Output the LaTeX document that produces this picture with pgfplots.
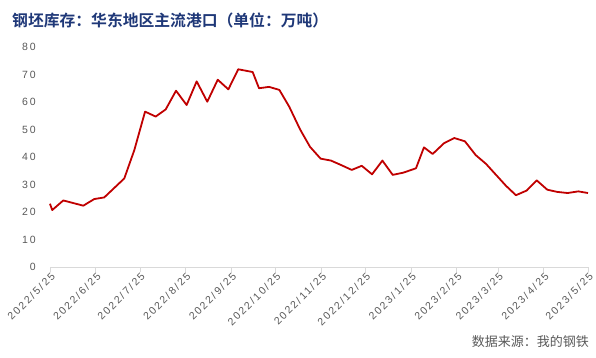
\documentclass[border=0pt]{standalone}
\usepackage{fontspec}
\usepackage{pgfplots}
\pgfplotsset{compat=1.18}
\setmainfont{Liberation Sans}
\newfontfamily\tickfont{Liberation Sans}[LetterSpace=18]
\newfontfamily\cjk{Noto Sans CJK SC}[BoldFont={Noto Sans CJK SC Bold}]
\definecolor{titleblue}{RGB}{31,56,120}
\definecolor{tickgray}{RGB}{89,89,89}
\definecolor{axgray}{RGB}{217,217,217}
\definecolor{linered}{RGB}{192,0,0}
\begin{document}
\begin{tikzpicture}[x=1pt,y=1pt]
\useasboundingbox (0,0) rectangle (596,358);
\node[anchor=west, inner sep=0pt, text=titleblue, font=\cjk\bfseries\fontsize{15.8}{17}\selectfont] at (12,338) {钢坯库存：华东地区主流港口（单位：万吨）};
\node[anchor=east, inner sep=0pt, text=tickgray, font=\cjk\fontsize{13}{15}\selectfont] at (589,16) {数据来源：我的钢铁};
\begin{axis}[
  at={(50pt,91pt)}, anchor=south west,
  scale only axis, width=538pt, height=220pt,
  xmin=0, xmax=365, ymin=0, ymax=80,
  axis x line*=bottom, axis y line*=left,
  x axis line style={draw=axgray, line width=0.8pt},
  y axis line style={draw=none},
  ytick={0,10,...,80},
  xtick={0,31,61,92,123,153,184,214,245,276,304,335,365},
  xticklabels={2022/5/25,2022/6/25,2022/7/25,2022/8/25,2022/9/25,2022/10/25,2022/11/25,2022/12/25,2023/1/25,2023/2/25,2023/3/25,2023/4/25,2023/5/25},
  tick align=outside,
  major tick length=5pt,
  xtick style={draw=axgray, line width=0.8pt},
  ytick style={draw=none},
  tick label style={font=\tickfont\fontsize{10.5}{12}\selectfont, text=tickgray},
  /pgf/number format/assume math mode=true,
  yticklabel style={inner sep=0pt, xshift=-9pt},
  xticklabel style={rotate=45, anchor=east, inner sep=0pt, yshift=-4pt, xshift=0.5pt},
  clip=false,
]
\addplot[linered, line width=1.8pt, line join=round] coordinates {
(0,23) (1.5,20.7) (9,24.2) (22.6,22.3) (30,24.7) (36.8,25.3) (50.4,32.2)
(57.2,42.5) (64.5,56.5) (71.7,54.7) (78.5,57.3) (85.5,64.1) (92.7,58.9)
(99.5,67.5) (106.7,60.1) (113.8,68.1) (121,64.6) (127.7,71.9) (137.5,70.9)
(141.8,65) (148.6,65.5) (155.6,64.4) (162.3,58.3) (169.6,50.1) (176.4,43.7)
(183.6,39.4) (190.6,38.7) (197.4,37.1) (204.7,35.3) (211.5,36.8) (218.5,33.7)
(225.5,38.7) (232.5,33.5) (239.7,34.3) (248.3,35.9) (253.7,43.5) (259.6,41.1)
(267.3,45) (274.3,46.9) (281.5,45.7) (288.8,40.7) (295.8,37.5) (302.6,33.5)
(309.4,29.5) (316.1,26.1) (323.4,27.8) (330.2,31.5) (337.4,28.1) (344.2,27.3)
(351.2,26.9) (358.4,27.5) (365,26.9)
};
\end{axis}
\end{tikzpicture}
\end{document}
